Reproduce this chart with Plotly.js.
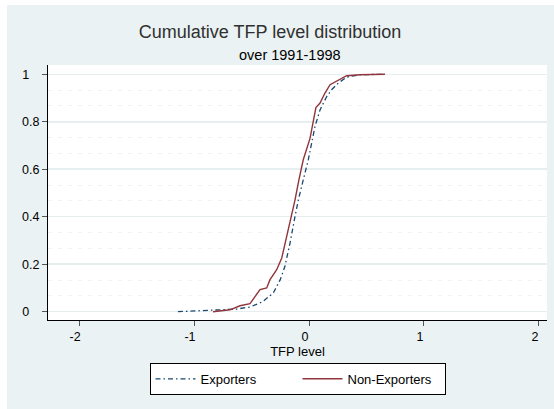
<!DOCTYPE html>
<html>
<head>
<meta charset="utf-8">
<script src="https://cdn.plot.ly/plotly-3.0.1.min.js"></script>
<style>html,body{margin:0;padding:0;background:#fff;}#chart{width:554px;height:409px;}</style>
</head>
<body>
<div id="chart"></div>
<script>
// Exporters CDF
const expX = [-1.14, -0.86, -0.63, -0.51, -0.40, -0.31, -0.25, -0.21, -0.165, -0.122, -0.093, -0.05, -0.006, 0.052, 0.096, 0.154, 0.197, 0.255, 0.328, 0.443, 0.66];
const expY = [0, 0.005, 0.011, 0.02, 0.043, 0.079, 0.135, 0.19, 0.289, 0.40, 0.47, 0.555, 0.64, 0.78, 0.85, 0.906, 0.935, 0.963, 0.988, 0.998, 1.0];
// Non-Exporters CDF
const nonX = [-0.835, -0.687, -0.60, -0.513, -0.426, -0.368, -0.339, -0.281, -0.237, -0.194, -0.150, -0.122, -0.09, -0.05, 0.009, 0.06, 0.096, 0.139, 0.183, 0.24, 0.328, 0.443, 0.66];
const nonY = [0, 0.008, 0.025, 0.034, 0.093, 0.1, 0.135, 0.177, 0.226, 0.317, 0.40, 0.47, 0.55, 0.64, 0.73, 0.86, 0.879, 0.921, 0.956, 0.97, 0.994, 0.998, 1.0];
const seriesNames = ["Exporters", "Non-Exporters"];
const yTickVals = [0, 0.2, 0.4, 0.6, 0.8, 1];
const yTickText = ["0\u00a0\u00a0\u00a0", "0.2", "0.4", "0.6", "0.8", "1\u00a0\u00a0\u00a0"];
const xTickVals = [-2, -1, 0, 1, 2];
const xTickText = ["-2", "-1", "0", "1", "2"];
const titleText = "Cumulative TFP level distribution";
const subtitleText = "over 1991-1998";
const xTitle = "TFP level";

const FONT = "Liberation Sans, Arial, sans-serif";

const traces = [
  {x: expX, y: expY, name: seriesNames[0], type: "scatter", mode: "lines",
   line: {color: "#1a476f", width: 1.3, dash: "5px,3px,1.5px,3px"}},
  {x: nonX, y: nonY, name: seriesNames[1], type: "scatter", mode: "lines",
   line: {color: "#90353b", width: 1.4}}
];

const layout = {
  width: 554, height: 409,
  margin: {l: 48, r: 7, t: 65, b: 89, pad: 0},
  paper_bgcolor: "#ffffff",
  plot_bgcolor: "#ffffff",
  font: {family: FONT, size: 12.5, color: "#000"},
  title: {text: titleText, font: {family: FONT, size: 18, color: "#303030"},
          xref: "paper", x: 0.445, xanchor: "center", yref: "container", y: 0.922, yanchor: "middle"},
  annotations: [{text: subtitleText, xref: "paper", yref: "paper", x: 0.485, y: 1.039,
                 xanchor: "center", yanchor: "middle", showarrow: false,
                 font: {family: FONT, size: 14.5, color: "#000"}}],
  shapes: [
    {type: "rect", xref: "paper", yref: "paper", x0: -0.0822, x1: 1.02, y0: -0.36, y1: 1.235,
     fillcolor: "#eaf2f3", line: {width: 0}, layer: "below"},
    {type: "rect", xref: "paper", yref: "paper", x0: 0, x1: 1, y0: 0, y1: 1,
     fillcolor: "#ffffff", line: {width: 0}, layer: "below"}
  ],
  xaxis: {
    range: [-2.27, 2.07], tickvals: xTickVals, ticktext: xTickText, ticks: "outside", ticklen: 5, tickcolor: "#555",
    showline: true, linecolor: "#000", linewidth: 1, showgrid: false, zeroline: false,
    ticklabelshift: -4, tickfont: {size: 12.5},
    title: {text: xTitle, font: {size: 13}, standoff: 3}
  },
  yaxis: {
    range: [-0.035, 1.039], tickvals: yTickVals, ticktext: yTickText, ticks: "outside", ticklen: 5,
    tickcolor: "#555", showline: true, linecolor: "#000", linewidth: 1, zeroline: false,
    showgrid: true, gridcolor: "#e6eef0", gridwidth: 1.5, tickfont: {size: 12.5},
    minor: {dtick: 0.2/3, showgrid: true, gridcolor: "#eef3f5", gridwidth: 1, griddash: "4px,6px"}
  },
  showlegend: true,
  legend: {orientation: "h", x: 0.5, xanchor: "center", y: -0.168, yanchor: "top",
           bgcolor: "#ffffff", bordercolor: "#000", borderwidth: 1,
           font: {family: FONT, size: 13, color: "#000"}, entrywidth: 92, itemwidth: 40}
};

Plotly.newPlot("chart", traces, layout, {displayModeBar: false, staticPlot: true});
</script>
</body>
</html>
